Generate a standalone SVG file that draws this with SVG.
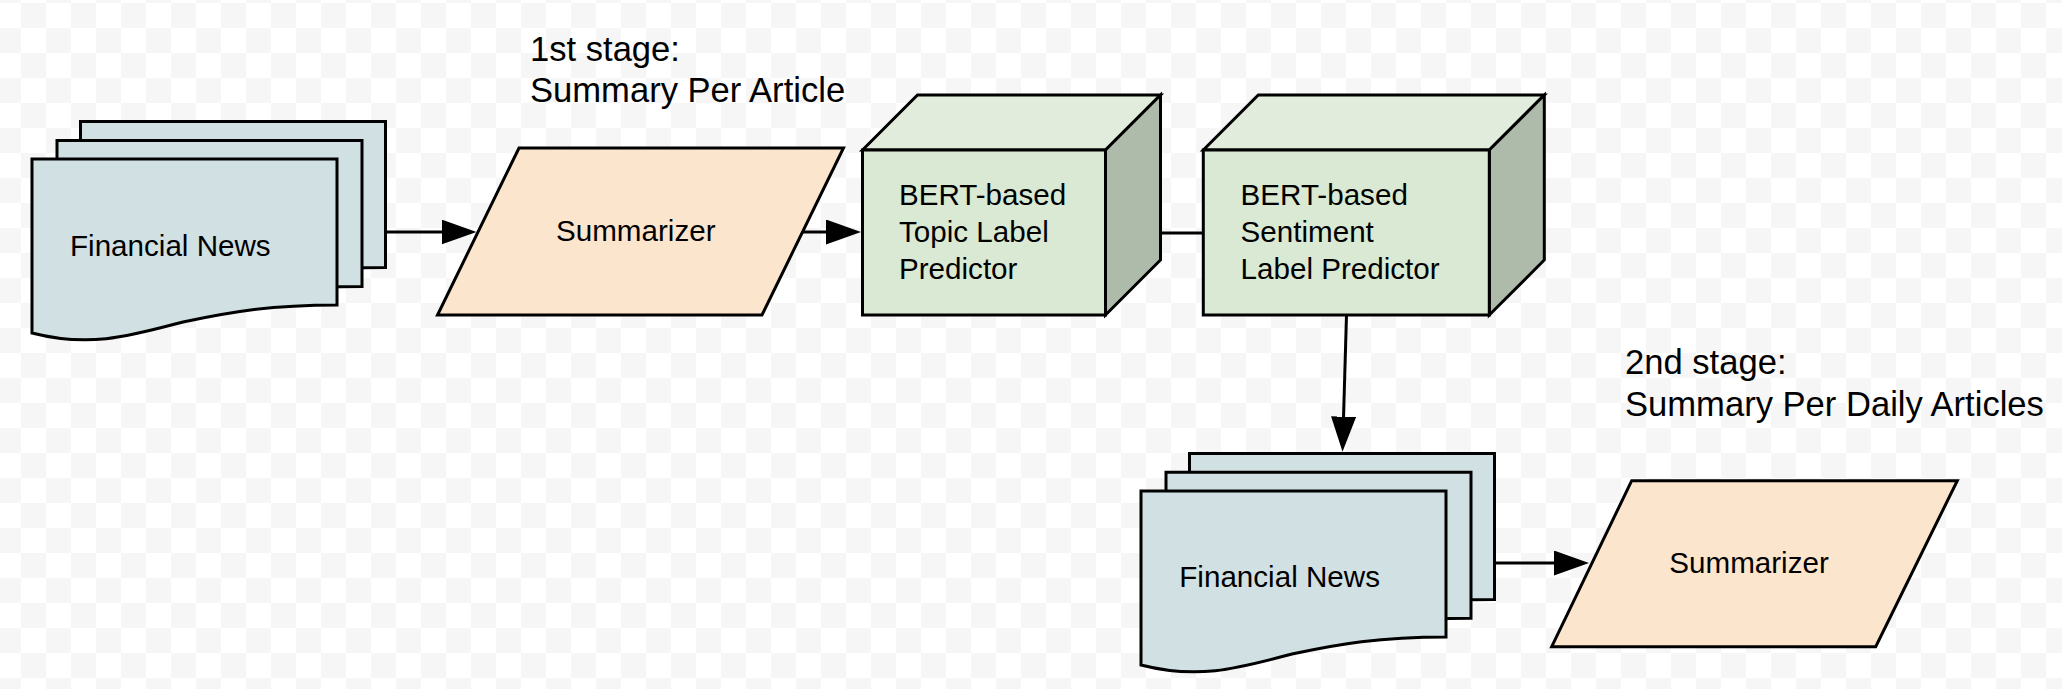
<svg xmlns="http://www.w3.org/2000/svg" xmlns:xlink="http://www.w3.org/1999/xlink" width="2062" height="689" viewBox="0 0 2062 689">
<style>
.s{stroke:#000;stroke-width:3;stroke-linejoin:miter}
.doc{fill:#d0e0e3}
.par{fill:#fce5cd}
.front{fill:#d9e9d3}
.top{fill:#e1ecdc}
.side{fill:#aebbaa}
.t{font-family:"Liberation Sans",Arial,sans-serif;font-size:29.6px;fill:#000}
.h{font-family:"Liberation Sans",Arial,sans-serif;font-size:34.6px;fill:#000}
.c{fill:none;stroke:#000;stroke-width:3}
</style>
<defs>
<pattern id="chk" x="21" y="3" width="50" height="50" patternUnits="userSpaceOnUse">
<rect width="50" height="50" fill="#ffffff"/>
<rect width="25" height="25" fill="#f6f6f6"/>
<rect x="25" y="25" width="25" height="25" fill="#f6f6f6"/>
</pattern>
<path id="docshape" d="M0,0 H305 V146 C238,146 198,153 151,163 C98,177 58,189 0,174 Z"/>
<marker id="arr" viewBox="0 0 35 25" refX="5" refY="12.5" markerWidth="35" markerHeight="25" markerUnits="userSpaceOnUse" orient="auto">
<path d="M0,0 L35,12.5 L0,25 Z" fill="#000"/>
</marker>
</defs>
<rect width="2062" height="689" fill="url(#chk)"/>

<g id="connectors">
<line class="c" x1="386" y1="232" x2="446.5" y2="232" marker-end="url(#arr)"/>
<line class="c" x1="802" y1="232" x2="831" y2="232" marker-end="url(#arr)"/>
<line class="c" x1="1105.5" y1="233" x2="1203" y2="233"/>
<line class="c" x1="1346.5" y1="315" x2="1343.4" y2="421.7" marker-end="url(#arr)"/>
<line class="c" x1="1494" y1="563" x2="1559" y2="563" marker-end="url(#arr)"/>
</g>

<g id="news1">
<use href="#docshape" xlink:href="#docshape" class="doc s" transform="translate(80.5,121.5)"/>
<use href="#docshape" xlink:href="#docshape" class="doc s" transform="translate(57,140.5)"/>
<use href="#docshape" xlink:href="#docshape" class="doc s" transform="translate(32,159)"/>
<text class="t" x="70" y="256">Financial News</text>
</g>

<g id="stage1">
<text class="h" x="530" y="60.7">1st stage:</text>
<text class="h" x="530" y="101.7">Summary Per Article</text>
</g>

<g id="summarizer1">
<polygon class="par s" points="519,148 843.5,148 762,315 437.5,315"/>
<text class="t" x="556" y="240.7">Summarizer</text>
</g>

<g id="topic">
<polygon class="top s" points="862.5,150 917.5,95 1160.5,95 1105.5,150"/>
<polygon class="side s" points="1105.5,150 1160.5,95 1160.5,260 1105.5,315"/>
<rect class="front s" x="862.5" y="150" width="243" height="165"/>
<text class="t" x="899" y="205">BERT-based</text>
<text class="t" x="899" y="241.7">Topic Label</text>
<text class="t" x="899" y="278.6">Predictor</text>
</g>

<g id="sentiment">
<polygon class="top s" points="1203.3,150 1258.3,95 1544.3,95 1489.3,150"/>
<polygon class="side s" points="1489.3,150 1544.3,95 1544.3,260 1489.3,315"/>
<rect class="front s" x="1203.3" y="150" width="286" height="165"/>
<text class="t" x="1240.6" y="205">BERT-based</text>
<text class="t" x="1240.6" y="241.7">Sentiment</text>
<text class="t" x="1240.6" y="278.6">Label Predictor</text>
</g>

<g id="news2">
<use href="#docshape" xlink:href="#docshape" class="doc s" transform="translate(1189.5,453.5)"/>
<use href="#docshape" xlink:href="#docshape" class="doc s" transform="translate(1166,472.3)"/>
<use href="#docshape" xlink:href="#docshape" class="doc s" transform="translate(1141,491)"/>
<text class="t" x="1179.3" y="587.3">Financial News</text>
</g>

<g id="stage2">
<text class="h" x="1625" y="374">2nd stage:</text>
<text class="h" x="1625" y="416">Summary Per Daily Articles</text>
</g>

<g id="summarizer2">
<polygon class="par s" points="1631.7,480.7 1957.3,480.7 1875.7,646.7 1551.7,646.7"/>
<text class="t" x="1669.3" y="573.3">Summarizer</text>
</g>
</svg>
